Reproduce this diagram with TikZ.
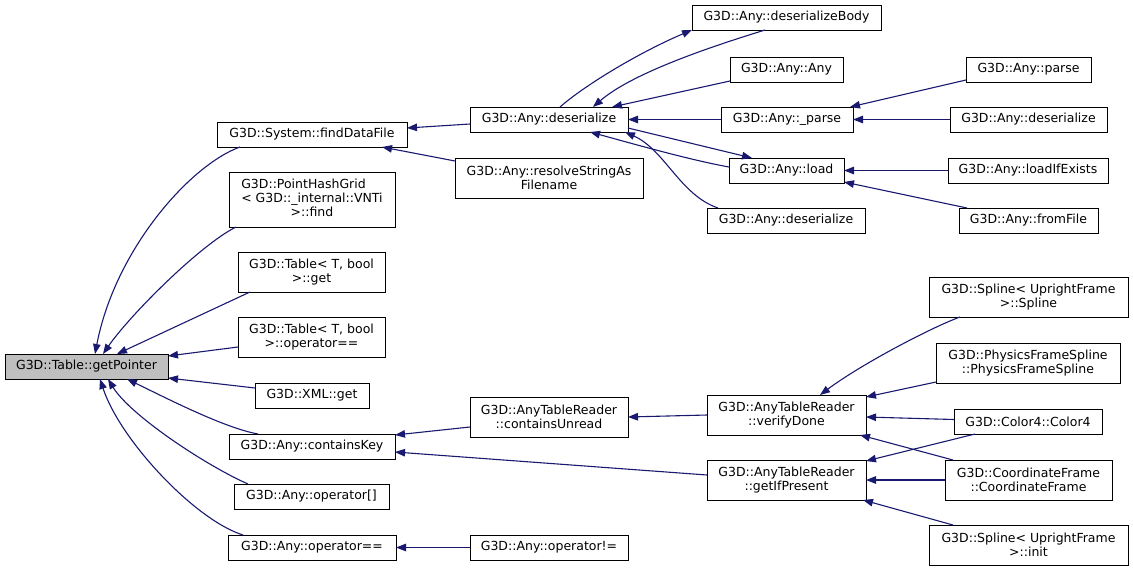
\documentclass[tikz,border=0pt]{standalone}
\usepackage{fontspec}
\setmainfont{DejaVu Sans}
\usetikzlibrary{arrows.meta,calc}
\definecolor{edgeblue}{HTML}{191970}
\definecolor{rootgray}{HTML}{BFBFBF}
\begin{document}
\begin{tikzpicture}[x=1pt,y=-1pt,
  box/.style={draw=black, line width=1pt, fill=white, inner sep=0pt, outer sep=0pt, anchor=north west, align=center, font=\fontsize{12.5}{14}\selectfont},
  edge/.style={draw=edgeblue, line width=1.1pt, -{Triangle[length=10pt,width=7.5pt]}},
]
\useasboundingbox (0,0) rectangle (1133,571);
% column 0
\node[box, fill=rootgray, minimum width=163pt, minimum height=25pt] (gp) at (5,354) {G3D::Table::getPointer};
% column 1
\node[box, minimum width=190pt, minimum height=25pt] (fdf) at (217,122) {G3D::System::findDataFile};
\node[box, minimum width=166pt, minimum height=55pt] (phg) at (229,172) {\begin{tabular}{@{}l@{}}G3D::PointHashGrid\\< G3D::\_internal::VNTi\\\multicolumn{1}{@{}c@{}}{>::find}\end{tabular}};
\node[box, minimum width=147pt, minimum height=40pt] (tget) at (238,252) {G3D::Table< T, bool\\>::get};
\node[box, minimum width=147pt, minimum height=40pt] (teq) at (238,317) {G3D::Table< T, bool\\>::operator==};
\node[box, minimum width=114pt, minimum height=25pt] (xml) at (255,383) {G3D::XML::get};
\node[box, minimum width=166pt, minimum height=25pt] (ck) at (229,434) {G3D::Any::containsKey};
\node[box, minimum width=155pt, minimum height=25pt] (opi) at (234,484) {G3D::Any::operator[]};
\node[box, minimum width=168pt, minimum height=25pt] (opeq) at (228,535) {G3D::Any::operator==};
% column 2
\node[box, minimum width=158pt, minimum height=25pt] (des) at (470,107) {G3D::Any::deserialize};
\node[box, minimum width=188pt, minimum height=40pt] (rsf) at (455,158) {G3D::Any::resolveStringAs\\Filename};
\node[box, minimum width=158pt, minimum height=40pt] (cu) at (470,397) {G3D::AnyTableReader\\::containsUnread};
\node[box, minimum width=158pt, minimum height=25pt] (opne) at (470,535) {G3D::Any::operator!=};
% column 3
\node[box, minimum width=189pt, minimum height=25pt] (dbody) at (692,5) {G3D::Any::deserializeBody};
\node[box, minimum width=113pt, minimum height=25pt] (anyany) at (730,57) {G3D::Any::Any};
\node[box, minimum width=132pt, minimum height=25pt] (pparse) at (721,107) {G3D::Any::\_parse};
\node[box, minimum width=115pt, minimum height=25pt] (load) at (729,158) {G3D::Any::load};
\node[box, minimum width=158pt, minimum height=25pt] (des2) at (707,208) {G3D::Any::deserialize};
\node[box, minimum width=159pt, minimum height=40pt] (vd) at (707,395) {G3D::AnyTableReader\\::verifyDone};
\node[box, minimum width=159pt, minimum height=40pt] (gip) at (707,460) {G3D::AnyTableReader\\::getIfPresent};
% column 4
\node[box, minimum width=125pt, minimum height=25pt] (parse) at (966,57) {G3D::Any::parse};
\node[box, minimum width=157pt, minimum height=25pt] (des3) at (950,107) {G3D::Any::deserialize};
\node[box, minimum width=160pt, minimum height=25pt] (lie) at (948,158) {G3D::Any::loadIfExists};
\node[box, minimum width=139pt, minimum height=25pt] (ff) at (959,208) {G3D::Any::fromFile};
\node[box, minimum width=199pt, minimum height=40pt] (ssp) at (929,277) {G3D::Spline< UprightFrame\\>::Spline};
\node[box, minimum width=184pt, minimum height=40pt] (pfs) at (936,343) {G3D::PhysicsFrameSpline\\::PhysicsFrameSpline};
\node[box, minimum width=148pt, minimum height=25pt] (c4) at (954,409) {G3D::Color4::Color4};
\node[box, minimum width=167pt, minimum height=40pt] (cf) at (945,460) {G3D::CoordinateFrame\\::CoordinateFrame};
\node[box, minimum width=199pt, minimum height=40pt] (sinit) at (929,525) {G3D::Spline< UprightFrame\\>::init};
% edges into getPointer
\draw[edge] ([shift={(23,0)}]fdf.south west) .. controls (190,165) and (115,250) .. ([shift={(90,0)}]gp.north west);
\draw[edge] ([shift={(7,0)}]phg.south west) .. controls (200,245) and (130,315) .. ([shift={(98,0)}]gp.north west);
\draw[edge] ([shift={(12,0)}]tget.south west) -- ([shift={(112,0)}]gp.north west);
\draw[edge] ([shift={(0,-10)}]teq.south west) -- ([shift={(0,2)}]gp.north east);
\draw[edge] ([shift={(0,5)}]xml.north west) -- ([shift={(0,-1)}]gp.south east);
\draw[edge] ([shift={(29,0)}]ck.north west) .. controls (225,428) and (170,400) .. ([shift={(122,0)}]gp.south west);
\draw[edge] ([shift={(14,0)}]opi.north west) .. controls (205,465) and (130,415) .. ([shift={(103,0)}]gp.south west);
\draw[edge] ([shift={(15,0)}]opeq.north west) .. controls (195,520) and (120,440) .. ([shift={(95,0)}]gp.south west);
% findDataFile
\draw[edge] ([shift={(0,17)}]des.north west) -- ([shift={(0,6)}]fdf.north east);
\draw[edge] ([shift={(0,3)}]rsf.north west) -- ([shift={(-25,0)}]fdf.south east);
% deserialize cluster
\draw[edge] ([shift={(90,0)}]des.north west) .. controls (585,85) and (640,52) .. (dbody.south west);
\draw[edge] ([shift={(73,0)}]dbody.south west) .. controls (700,50) and (630,75) .. ([shift={(123,0)}]des.north west);
\draw[edge] ([shift={(0,-1)}]anyany.south west) -- ([shift={(142,0)}]des.north west);
\draw[edge] (pparse.west) -- (des.east);
\draw[edge] ([shift={(0,-4)}]des.south east) -- ([shift={(23,0)}]load.north west);
\draw[edge] ([shift={(0,9)}]load.north west) .. controls (690,160) and (630,143) .. ([shift={(120,0)}]des.south west);
\draw[edge] ([shift={(11,0)}]des2.north west) .. controls (680,195) and (665,150) .. ([shift={(-3,0)}]des.south east);
\draw[edge] ([shift={(0,-2)}]parse.south west) -- ([shift={(-3,0)}]pparse.north east);
\draw[edge] (des3.west) -- (pparse.east);
\draw[edge] (lie.west) -- (load.east);
\draw[edge] ([shift={(8,0)}]ff.north west) -- ([shift={(0,-1)}]load.south east);
% containsKey cluster
\draw[edge] ([shift={(0,30)}]cu.north west) -- ([shift={(0,1)}]ck.north east);
\draw[edge] ([shift={(0,-5)}]gip.west) -- ([shift={(0,5.5)}]ck.east);
\draw[edge] (vd.west) -- (cu.east);
\draw[edge] ([shift={(31,0)}]ssp.south west) .. controls (930,328) and (860,365) .. ([shift={(113,0)}]vd.north west);
\draw[edge] ([shift={(0,-1)}]pfs.south west) -- ([shift={(0,2)}]vd.north east);
\draw[edge] ([shift={(0,-2)}]c4.west) -- ([shift={(0,2)}]vd.east);
\draw[edge] ([shift={(8,0)}]cf.north west) -- ([shift={(-6,0)}]vd.south east);
\draw[edge] ([shift={(21,0)}]c4.south west) -- ([shift={(0,1)}]gip.north east);
\draw[edge] (cf.west) -- (gip.east);
\draw[edge] ([shift={(24,0)}]sinit.north west) -- ([shift={(-3,0)}]gip.south east);
\draw[edge] (opne.west) -- (opeq.east);
\end{tikzpicture}
\end{document}
